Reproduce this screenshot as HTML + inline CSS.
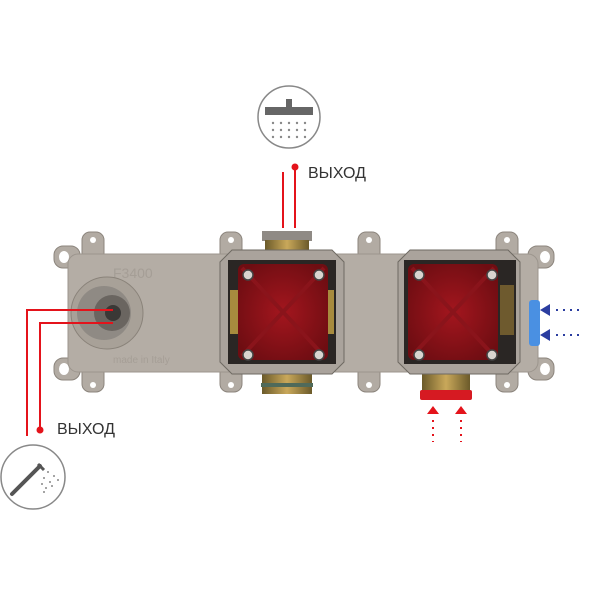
<!DOCTYPE html>
<html><head><meta charset="utf-8"><style>
body{margin:0;background:#fff;width:600px;height:600px;overflow:hidden}
text{font-family:"Liberation Sans",sans-serif}
</style></head><body>
<svg width="600" height="600" viewBox="0 0 600 600">
<defs>
<linearGradient id="br" x1="0" x2="1"><stop offset="0" stop-color="#6b5a2a"/><stop offset=".5" stop-color="#c9a85a"/><stop offset="1" stop-color="#6b5a2a"/></linearGradient>
<radialGradient id="rd" cx=".5" cy=".5" r=".6"><stop offset="0" stop-color="#a3161e"/><stop offset="1" stop-color="#6e0d12"/></radialGradient>
</defs>
<g fill="#b2aba3" stroke="#8c857d" stroke-width="1">
<rect x="82" y="232" width="22" height="30" rx="8"/><rect x="220" y="232" width="22" height="30" rx="8"/>
<rect x="358" y="232" width="22" height="30" rx="8"/><rect x="496" y="232" width="22" height="30" rx="8"/>
<rect x="82" y="362" width="22" height="30" rx="8"/><rect x="220" y="362" width="22" height="30" rx="8"/>
<rect x="358" y="362" width="22" height="30" rx="8"/><rect x="496" y="362" width="22" height="30" rx="8"/>
<rect x="54" y="246" width="26" height="22" rx="9"/><rect x="528" y="246" width="26" height="22" rx="9"/>
<rect x="54" y="358" width="26" height="22" rx="9"/><rect x="528" y="358" width="26" height="22" rx="9"/>
</g>
<g fill="#fff">
<circle cx="93" cy="240" r="3"/><circle cx="231" cy="240" r="3"/><circle cx="369" cy="240" r="3"/><circle cx="507" cy="240" r="3"/>
<circle cx="93" cy="385" r="3"/><circle cx="231" cy="385" r="3"/><circle cx="369" cy="385" r="3"/><circle cx="507" cy="385" r="3"/>
<ellipse cx="64" cy="257" rx="5" ry="6"/><ellipse cx="545" cy="257" rx="5" ry="6"/>
<ellipse cx="64" cy="369" rx="5" ry="6"/><ellipse cx="545" cy="369" rx="5" ry="6"/>
</g>
<rect x="68" y="254" width="470" height="118" rx="10" fill="#b4ada5" stroke="#9c958d"/>
<text x="113" y="278" font-size="14" fill="#a59e96">F3400</text>
<text x="113" y="363" font-size="10" fill="#a59e96">made in Italy</text>
<circle cx="107" cy="313" r="36" fill="#a8a198" stroke="#8a837a"/>
<circle cx="104" cy="313" r="27" fill="#8f8a84"/>
<circle cx="112" cy="313" r="18" fill="#6a6560"/>
<circle cx="113" cy="313" r="8" fill="#3a3836"/>
<rect x="262" y="231" width="50" height="10" fill="#8f8a85"/>
<rect x="265" y="240" width="44" height="16" fill="url(#br)"/>
<rect x="262" y="372" width="50" height="22" fill="url(#br)"/>
<rect x="261" y="383" width="52" height="4" fill="#4f6a5a"/>
<rect x="422" y="372" width="48" height="20" fill="url(#br)"/>
<rect x="420" y="390" width="52" height="10" rx="2" fill="#d61a22"/>
<rect x="529" y="300" width="11" height="46" rx="3" fill="#4a90e2"/>
<polygon points="232,250 332,250 344,262 344,362 332,374 232,374 220,362 220,262" fill="#aaa39c" stroke="#6e6962"/>
<rect x="228" y="260" width="108" height="104" fill="#2a2624"/>
<rect x="230" y="290" width="10" height="44" fill="#a78b3e"/><rect x="324" y="290" width="10" height="44" fill="#a78b3e"/>
<rect x="238" y="264" width="90" height="96" rx="6" fill="url(#rd)"/>
<path d="M242 268L324 356M324 268L242 356" stroke="#8a141b" stroke-width="4"/>
<polygon points="410,250 508,250 520,262 520,362 508,374 410,374 398,362 398,262" fill="#aaa39c" stroke="#6e6962"/>
<rect x="404" y="260" width="112" height="104" fill="#2a2624"/>
<rect x="500" y="285" width="14" height="50" fill="#6e5a2e"/>
<rect x="408" y="264" width="90" height="96" rx="6" fill="url(#rd)"/>
<path d="M412 268L494 356M494 268L412 356" stroke="#8a141b" stroke-width="4"/>
<g fill="#d8d4cf" stroke="#444" stroke-width="1.5">
<circle cx="248" cy="275" r="5"/><circle cx="319" cy="275" r="5"/><circle cx="248" cy="355" r="5"/><circle cx="319" cy="355" r="5"/>
<circle cx="419" cy="275" r="5"/><circle cx="492" cy="275" r="5"/><circle cx="419" cy="355" r="5"/><circle cx="492" cy="355" r="5"/>
</g>
<g stroke="#e4131b" stroke-width="2" fill="none">
<path d="M283 172V228"/><path d="M295 167V228"/>
<path d="M113 310H27V436"/><path d="M113 323H40V430"/>
</g>
<circle cx="295" cy="167" r="3.5" fill="#e4131b"/><circle cx="40" cy="430" r="3.5" fill="#e4131b"/>
<text x="308" y="178" font-size="16" fill="#333">ВЫХОД</text>
<text x="57" y="434" font-size="16" fill="#333">ВЫХОД</text>
<circle cx="289" cy="117" r="31" fill="#fff" stroke="#888" stroke-width="1.5"/>
<rect x="286" y="99" width="6" height="10" fill="#666"/><rect x="265" y="107" width="48" height="8" fill="#666"/>
<g fill="#888"><circle cx="273" cy="123" r="1.2"/><circle cx="281" cy="123" r="1.2"/><circle cx="289" cy="123" r="1.2"/><circle cx="297" cy="123" r="1.2"/><circle cx="305" cy="123" r="1.2"/>
<circle cx="273" cy="130" r="1.2"/><circle cx="281" cy="130" r="1.2"/><circle cx="289" cy="130" r="1.2"/><circle cx="297" cy="130" r="1.2"/><circle cx="305" cy="130" r="1.2"/>
<circle cx="273" cy="137" r="1.2"/><circle cx="281" cy="137" r="1.2"/><circle cx="289" cy="137" r="1.2"/><circle cx="297" cy="137" r="1.2"/><circle cx="305" cy="137" r="1.2"/></g>
<circle cx="33" cy="477" r="32" fill="#fff" stroke="#888" stroke-width="1.5"/>
<path d="M12 494L40 466" stroke="#555" stroke-width="4" stroke-linecap="round"/>
<path d="M38 464L44 470" stroke="#555" stroke-width="3"/>
<g fill="#888"><circle cx="48" cy="472" r="1"/><circle cx="54" cy="476" r="1"/><circle cx="58" cy="480" r="1"/><circle cx="44" cy="478" r="1"/><circle cx="50" cy="482" r="1"/><circle cx="42" cy="484" r="1"/><circle cx="46" cy="488" r="1"/><circle cx="52" cy="486" r="1"/><circle cx="44" cy="492" r="1"/></g>
<g fill="#2b3da0"><polygon points="540,310 550,304 550,316"/><polygon points="540,335 550,329 550,341"/></g>
<g stroke="#2b3da0" stroke-width="2" stroke-dasharray="2 5"><path d="M556 310H580"/><path d="M556 335H580"/></g>
<g fill="#e4131b"><polygon points="433,406 427,414 439,414"/><polygon points="461,406 455,414 467,414"/></g>
<g stroke="#e4131b" stroke-width="2" stroke-dasharray="2 5"><path d="M433 420V442"/><path d="M461 420V442"/></g>
</svg>
</body></html>
